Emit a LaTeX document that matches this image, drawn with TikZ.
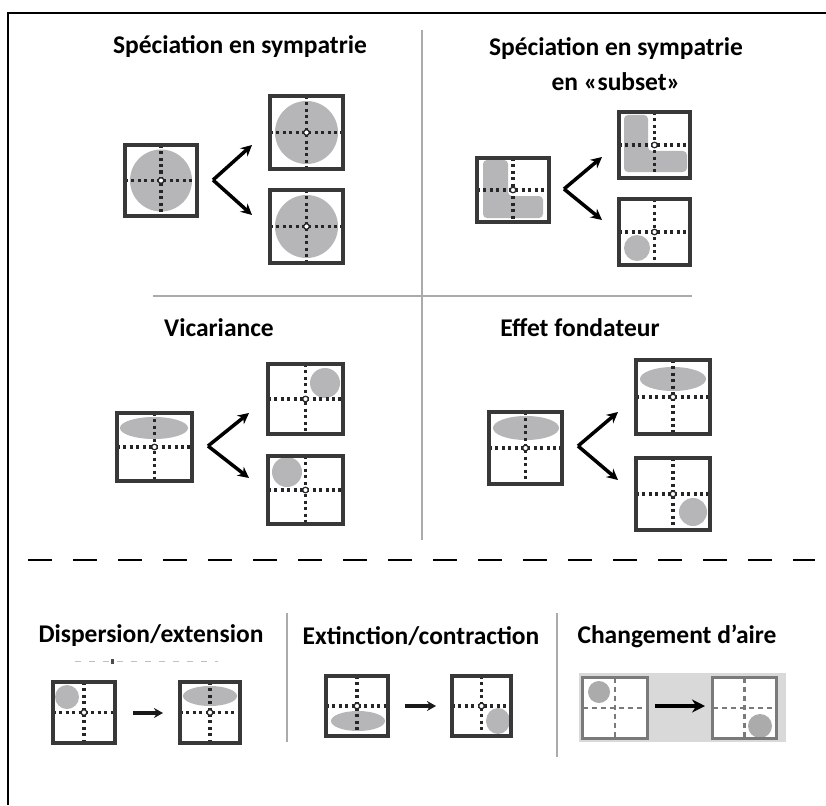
\documentclass[tikz,border=0pt]{standalone}
\usepackage{fontspec}
\setmainfont{Carlito}
\usetikzlibrary{arrows.meta}
\definecolor{shapegray}{HTML}{B6B6B9}
\definecolor{framegray}{HTML}{383838}
\definecolor{divgray}{HTML}{ABABAB}
\definecolor{bggray}{HTML}{D9D9D9}
\definecolor{chgray}{HTML}{7A7A7A}
\tikzset{
  cellbg/.style={rectangle, fill=white, inner sep=0pt, outer sep=0pt},
  cellframe/.style={draw=framegray, line width=3.8pt},
  dotcross/.style={draw=black!85, line width=3.2pt, dash pattern=on 3pt off 3.4pt},
  cellctr/.style={draw=black!85, fill=white, line width=1.2pt},
  blob/.style={fill=shapegray},
  divider/.style={draw=divgray, line width=1.4pt},
  splitarrow/.style={draw=black, line width=3.5pt, -{Stealth[length=11pt,width=11pt]}},
  smallarrow/.style={draw=black!90, line width=3.4pt, -{Stealth[length=9pt,width=10pt]}},
  title/.style={font=\fontsize{25.5}{35}\selectfont\bfseries, align=center, inner sep=0pt}
}
\newcommand\mapcell[6]{%
  \node[cellbg, minimum width={(#4-3.8)*1pt}, minimum height={(#5-3.8)*1pt}] (#1) at (#2,#3) {};
  #6
  \draw[dotcross] (#1.north) -- (#1.south) (#1.west) -- (#1.east);
  \path[cellctr] (#1.center) circle (2.8pt);
  \draw[cellframe] (#1.south west) rectangle (#1.north east);
}
\begin{document}
\begin{tikzpicture}[x=1pt,y=-1pt]
\useasboundingbox (0,0) rectangle (826,805);
% outer border
\draw[line width=1.8pt] (826,13) -- (7,13) coordinate (tl);
\draw[line width=1.8pt] (8,13) -- (8,805);
% dividers
\draw[divider] (422,30) -- (422,540);
\draw[divider] (153,296) -- (692,296);
\draw[divider] (287,613) -- (287,742);
\draw[divider] (557,613) -- (557,757);
\draw[line width=2pt, dash pattern=on 24pt off 21pt] (28,560) -- (815,560);

% titles
\node[title] (t1) at (240,47) {Spéciation en sympatrie};
\node[title] (t2) at (616,64) {Spéciation en sympatrie\\en «subset»};
\node[title] (t3) at (219,328) {Vicariance};
\node[title] (t4) at (580,328) {Effet fondateur};
\node[title] (t5) at (151,636) {Dispersion/extension};
\node[title] (t6) at (421,636) {Extinction/contraction};
\node[title] (t7) at (677,636) {Changement d’aire};

% Panel 1
\mapcell{a1}{161}{180.5}{76}{75}{\fill[blob] (161,180.5) circle (31);}
\mapcell{a2}{306.5}{132.5}{77}{77}{\fill[blob] (306.5,132.5) circle (31.5);}
\mapcell{a3}{306.5}{226.5}{77}{77}{\fill[blob] (306.5,226.5) circle (31.5);}
\coordinate (v1) at (213,180);
\coordinate (v1u) at (252,145);
\coordinate (v1d) at (252,215);
\draw[splitarrow] (v1) -- (v1u);
\draw[splitarrow] (v1) -- (v1d);

% Panel 2
\mapcell{b1}{513}{190}{76}{68}{\fill[blob, rounded corners=4pt] (483,160) -- (508,160) -- (508,196) -- (543,196) -- (543,218) -- (483,218) -- cycle;}
\mapcell{b2}{654.5}{145}{75}{70}{\fill[blob, rounded corners=4pt] (624,115) -- (648,115) -- (648,151) -- (687,151) -- (687,172) -- (624,172) -- cycle;}
\mapcell{b3}{654.5}{232}{75}{70}{\fill[blob] (637,248) circle (13);}
\coordinate (v2) at (564,189);
\coordinate (v2u) at (602,157);
\coordinate (v2d) at (602,220);
\draw[splitarrow] (v2) -- (v2u);
\draw[splitarrow] (v2) -- (v2d);

% Panel 3
\mapcell{c1}{154.5}{447}{79}{72}{\fill[blob] (154,428) ellipse [x radius=34, y radius=11];}
\mapcell{c2}{305.5}{399}{79}{74}{\fill[blob] (325,383) circle (15);}
\mapcell{c3}{305.5}{490}{79}{72}{\fill[blob] (287,472) circle (15);}
\coordinate (v3) at (208,446);
\coordinate (v3u) at (249,413);
\coordinate (v3d) at (249,478);
\draw[splitarrow] (v3) -- (v3u);
\draw[splitarrow] (v3) -- (v3d);

% Panel 4
\mapcell{d1}{525.5}{448}{77}{76}{\fill[blob] (526,428) ellipse [x radius=33, y radius=12];}
\mapcell{d2}{673}{397}{78}{78}{\fill[blob] (673,379) ellipse [x radius=33, y radius=12];}
\mapcell{d3}{673}{494}{78}{76}{\fill[blob] (693,512) circle (14);}
\coordinate (v4) at (578,446);
\coordinate (v4u) at (618,412);
\coordinate (v4d) at (618,480);
\draw[splitarrow] (v4) -- (v4u);
\draw[splitarrow] (v4) -- (v4d);

% Dispersion / extension
\draw[black!25, line width=1pt, dash pattern=on 6pt off 8pt] (75,661) -- (218,661);
\fill[black!70] (110.5,659) rectangle (113.5,663.5);
\mapcell{e1}{84}{712.5}{66}{65}{\fill[blob] (67,697) circle (12);}
\mapcell{e2}{210}{712.5}{64}{65}{\fill[blob] (210,696) ellipse [x radius=27, y radius=10];}
\coordinate (e1a) at (133,713);
\coordinate (e2a) at (163,713);
\draw[smallarrow] (e1a) -- (e2a);

% Extinction / contraction
\mapcell{f1}{357}{706}{66}{64}{\fill[blob] (358,721) ellipse [x radius=27, y radius=10];}
\mapcell{f2}{481.5}{706}{63}{64}{\fill[blob] (498,721) ellipse [x radius=12, y radius=13];}
\coordinate (f1a) at (405,706);
\coordinate (f2a) at (436,706);
\draw[smallarrow] (f1a) -- (f2a);

% Changement d'aire
\fill[bggray] (579,673) rectangle (786,742);
\begin{scope}[cellframe/.style={draw=chgray, line width=3pt},
  dotcross/.style={draw=chgray, line width=2.6pt, dash pattern=on 5pt off 4pt},
  cellctr/.style={draw=none}, blob/.style={fill=black!33}]
\mapcell{g1}{615}{708}{68}{64}{\fill[blob] (599,692) circle (11);}
\mapcell{g2}{744.5}{708}{67}{64}{\fill[blob] (760,726) circle (12);}
\end{scope}
\coordinate (g1a) at (655,706);
\coordinate (g2a) at (705,706);
\draw[line width=4.5pt, -{Stealth[length=13pt,width=13pt]}] (g1a) -- (g2a);
\end{tikzpicture}
\end{document}
